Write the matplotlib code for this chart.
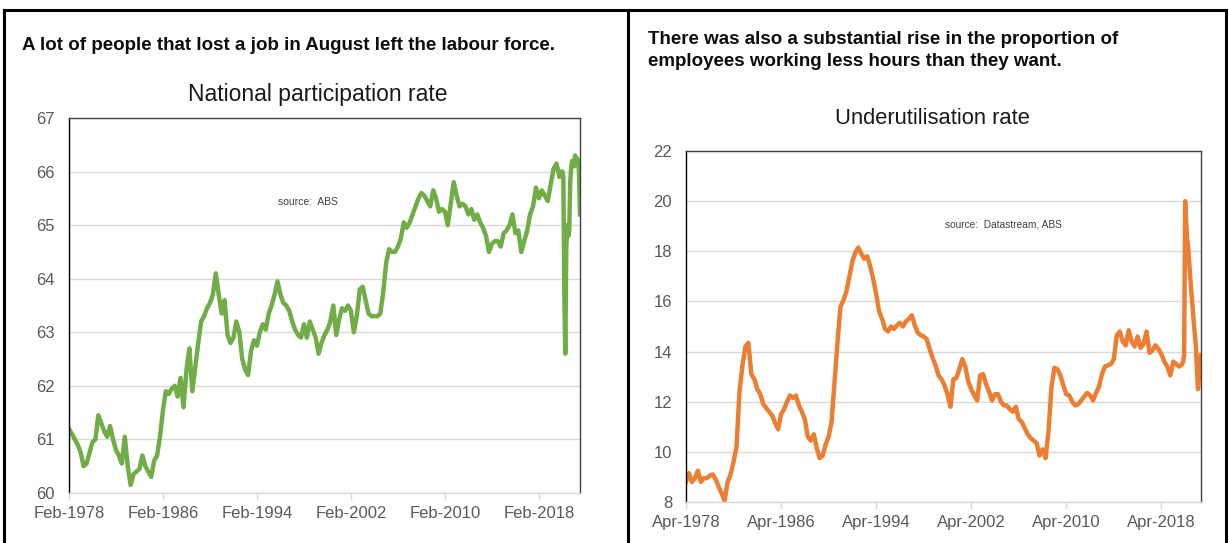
import matplotlib.pyplot as plt
from matplotlib.lines import Line2D
import numpy as np
import pandas as pd

plt.rcParams['font.family'] = ['Liberation Sans', 'DejaVu Sans']

W, H = 1229, 543

# National participation rate (%), quarterly samples Feb-1978 .. Nov-2019
part_quarterly = [
    61.2, 61.1, 61.0, 60.9,      # 1978
    60.75, 60.5, 60.55, 60.75,   # 1979
    60.95, 61.0, 61.45, 61.3,    # 1980
    61.15, 61.05, 61.25, 61.0,   # 1981
    60.8, 60.7, 60.55, 61.05,    # 1982
    60.5, 60.15, 60.35, 60.4,    # 1983
    60.45, 60.7, 60.5, 60.4,     # 1984
    60.3, 60.6, 60.7, 61.05,     # 1985
    61.55, 61.9, 61.85, 61.95,   # 1986
    62.0, 61.8, 62.15, 61.6,     # 1987
    62.3, 62.7, 61.9, 62.35,     # 1988
    62.8, 63.2, 63.3, 63.45,     # 1989
    63.55, 63.7, 64.1, 63.7,     # 1990
    63.35, 63.6, 62.95, 62.8,    # 1991
    62.9, 63.2, 63.0, 62.5,      # 1992
    62.3, 62.2, 62.65, 62.85,    # 1993
    62.75, 63.0, 63.15, 63.05,   # 1994
    63.35, 63.5, 63.7, 63.95,    # 1995
    63.7, 63.55, 63.5, 63.4,     # 1996
    63.2, 63.05, 62.95, 62.9,    # 1997
    63.15, 62.9, 63.2, 63.05,    # 1998
    62.9, 62.6, 62.8, 62.95,     # 1999
    63.05, 63.2, 63.5, 62.95,    # 2000
    63.25, 63.45, 63.4, 63.5,    # 2001
    63.4, 63.0, 63.3, 63.8,      # 2002
    63.85, 63.6, 63.35, 63.3,    # 2003
    63.3, 63.3, 63.35, 63.75,    # 2004
    64.3, 64.55, 64.5, 64.5,     # 2005
    64.6, 64.75, 65.05, 64.95,   # 2006
    65.05, 65.2, 65.35, 65.5,    # 2007
    65.6, 65.55, 65.45, 65.35,   # 2008
    65.65, 65.5, 65.25, 65.3,    # 2009
    65.25, 65.0, 65.4, 65.8,     # 2010
    65.55, 65.35, 65.4, 65.35,   # 2011
    65.2, 65.3, 65.1, 65.2,      # 2012
    65.05, 64.95, 64.8, 64.5,    # 2013
    64.65, 64.7, 64.7, 64.6,     # 2014
    64.85, 64.9, 65.0, 65.2,     # 2015
    64.85, 64.9, 64.5, 64.7,     # 2016
    64.9, 65.2, 65.35, 65.7,     # 2017
    65.5, 65.65, 65.55, 65.45,   # 2018
    65.75, 66.05, 66.15, 65.9,   # 2019
]
# monthly Dec-2019 .. Aug-2021
part_monthly = [65.95, 66.0, 66.0, 65.9, 63.7, 62.6, 64.6, 65.0, 64.8, 64.9,
                65.8, 66.1, 66.2, 66.1, 66.1, 66.3, 66.2, 66.25, 66.2, 66.0, 65.2]

# Underutilisation rate (%), quarterly samples Apr-1978 .. Oct-2019
under_quarterly = [
    8.8, 9.15, 8.8,              # 1978
    8.95, 9.25, 8.8, 8.95,       # 1979
    8.95, 9.05, 9.1, 8.9,        # 1980
    8.6, 8.35, 8.05, 8.8,        # 1981
    9.1, 9.6, 10.2, 12.4,        # 1982
    13.45, 14.2, 14.35, 13.1,    # 1983
    12.9, 12.5, 12.3, 11.9,      # 1984
    11.75, 11.6, 11.45, 11.15,   # 1985
    10.9, 11.5, 11.7, 12.0,      # 1986
    12.25, 12.15, 12.25, 11.85,  # 1987
    11.6, 11.3, 10.6, 10.45,     # 1988
    10.7, 10.15, 9.75, 9.85,     # 1989
    10.3, 10.6, 11.2, 12.8,      # 1990
    14.4, 15.8, 16.05, 16.4,     # 1991
    17.0, 17.6, 17.95, 18.15,    # 1992
    17.9, 17.7, 17.8, 17.4,      # 1993
    16.9, 16.3, 15.6, 15.3,      # 1994
    14.9, 14.8, 15.0, 14.9,      # 1995
    15.05, 15.15, 15.0, 15.2,    # 1996
    15.3, 15.45, 15.05, 14.75,   # 1997
    14.65, 14.6, 14.5, 14.1,     # 1998
    13.75, 13.45, 13.05, 12.9,   # 1999
    12.65, 12.3, 11.8, 12.9,     # 2000
    12.95, 13.3, 13.7, 13.4,     # 2001
    12.8, 12.5, 12.25, 12.05,    # 2002
    13.05, 13.1, 12.7, 12.4,     # 2003
    12.05, 12.3, 12.3, 12.0,     # 2004
    11.85, 11.85, 11.7, 11.6,    # 2005
    11.8, 11.3, 11.2, 10.95,     # 2006
    10.7, 10.55, 10.45, 10.35,   # 2007
    9.85, 10.1, 9.75, 10.8,      # 2008
    12.6, 13.35, 13.3, 13.05,    # 2009
    12.65, 12.3, 12.25, 12.0,    # 2010
    11.85, 11.9, 12.05, 12.2,    # 2011
    12.35, 12.25, 12.05, 12.35,  # 2012
    12.6, 13.1, 13.4, 13.45,     # 2013
    13.5, 13.7, 14.65, 14.8,     # 2014
    14.4, 14.25, 14.85, 14.4,    # 2015
    14.2, 14.6, 14.15, 14.3,     # 2016
    14.8, 13.95, 14.05, 14.25,   # 2017
    14.1, 13.9, 13.6, 13.4,      # 2018
    13.05, 13.6, 13.5, 13.4,     # 2019
]
# monthly Jan-2020 .. Aug-2021
under_monthly = [13.5, 13.6, 13.9, 20.0, 19.2, 18.5, 18.2, 17.6, 17.0, 16.5,
                 16.0, 15.5, 15.0, 14.6, 14.1, 13.2, 12.5, 13.0, 13.3, 13.85]

part_ticks = ['Feb-1978', 'Feb-1986', 'Feb-1994', 'Feb-2002', 'Feb-2010', 'Feb-2018']
under_ticks = ['Apr-1978', 'Apr-1986', 'Apr-1994', 'Apr-2002', 'Apr-2010', 'Apr-2018']

part_dates = pd.date_range('1978-02-01', periods=len(part_quarterly), freq='3MS').append(
    pd.date_range('2019-12-01', periods=len(part_monthly), freq='MS'))
under_dates = pd.date_range('1978-04-01', periods=len(under_quarterly), freq='3MS').append(
    pd.date_range('2020-01-01', periods=len(under_monthly), freq='MS'))

GREY = '#595959'
GRID = '#d9d9d9'


def fx(x):
    return x / W


def fy(y):
    return 1 - y / H


def draw_panel(fig, box, dates, values, color, yticks, ticks):
    x0, y0, x1, y1 = box
    ax = fig.add_axes([fx(x0), fy(y1), fx(x1 - x0), (y1 - y0) / H])
    ax.plot(dates, values, color=color, lw=3.2, solid_joinstyle='round')
    ax.set_xlim(dates[0], dates[-1])
    ax.set_ylim(yticks[0], yticks[-1])
    ax.set_yticks(yticks)
    ax.yaxis.grid(True, color=GRID, lw=1)
    ax.set_axisbelow(True)
    ax.set_xticks(pd.to_datetime(ticks, format='%b-%Y'))
    ax.set_xticklabels(ticks)
    ax.tick_params(axis='x', colors=GRID, labelcolor=GREY, labelsize=12,
                   length=5, width=1, pad=4)
    ax.tick_params(axis='y', length=0, labelcolor=GREY, labelsize=12, pad=10)
    ax.spines['left'].set_color('black')
    ax.spines['right'].set_color('#404040')
    ax.spines['top'].set_color('#404040')
    ax.spines['bottom'].set_color(GRID)
    for s in ax.spines.values():
        s.set_linewidth(1)
    return ax


fig = plt.figure(figsize=(W / 100, H / 100), dpi=100)

# panel frames
for xs, ys in [([4, 1226], [10, 10]), ([4, 4], [10, H]),
               ([628, 628], [10, H]), ([1226, 1226], [10, H])]:
    fig.add_artist(Line2D([fx(v) for v in xs], [fy(v) for v in ys],
                          color='black', lw=2.2))

draw_panel(fig, (69, 118, 580, 493), part_dates, part_quarterly + part_monthly,
           '#70ad47', np.arange(60, 68, 1), part_ticks)
draw_panel(fig, (686, 151, 1201, 502), under_dates, under_quarterly + under_monthly,
           '#ed7d31', np.arange(8, 23, 2), under_ticks)

caption = dict(fontsize=13.5, fontweight='bold', va='center', ha='left', color='#0d0d0d')
fig.text(fx(22), fy(45), 'A lot of people that lost a job in August left the labour force.',
         **caption)
fig.text(fx(648), fy(40), 'There was also a substantial rise in the proportion of', **caption)
fig.text(fx(648), fy(62), 'employees working less hours than they want.', **caption)

fig.text(fx(318), fy(95), 'National participation rate', fontsize=16.5,
         ha='center', va='center', color='#1a1a1a')
fig.text(fx(932), fy(118), 'Underutilisation rate', fontsize=15.8,
         ha='center', va='center', color='#1a1a1a')

fig.text(fx(308), fy(202), 'source:  ABS', fontsize=7.5, ha='center', va='center',
         color='#404040')
fig.text(fx(1003), fy(225), 'source:  Datastream, ABS', fontsize=7.3, ha='center',
         va='center', color='#404040')

fig.savefig('out.png', dpi=100)
